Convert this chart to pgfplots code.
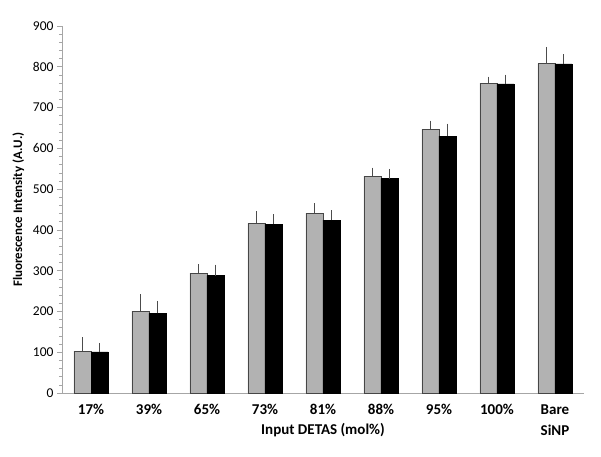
\documentclass[border=0pt]{standalone}
\usepackage{fontspec}
\setmainfont{Carlito}
\usepackage{pgfplots}
\pgfplotsset{compat=1.18}

\pgfplotsset{
  errbar/.style={error bars/.cd, y dir=plus, y explicit,
    error bar style={gray!60!black, line width=0.6pt},
    error mark options={gray!60!black, mark size=2pt, line width=0.6pt}},
}

\begin{document}
\begin{tikzpicture}
% fixed page: axis box sits at (0,0)-(522pt,367pt)
\path[use as bounding box] (-62pt,-63pt) rectangle (539pt,393pt);
\begin{axis}[
    at={(0,0)}, anchor=south west,
    width=522pt, height=367pt, scale only axis,
    xmin=-0.5, xmax=8.5, ymin=0, ymax=900,
    ytick={0,100,...,900}, minor y tick num=4,
    xtick={0,...,8},
    xticklabels={17\%,39\%,65\%,73\%,81\%,88\%,95\%,100\%,Bare},
    x tick label style={font=\fontsize{15}{17}\selectfont\bfseries, yshift=-3pt},
    y tick label style={font=\fontsize{13.5}{15}\selectfont},
    /pgf/number format/assume math mode=true,
    major x tick style={draw=none},
    extra x ticks={0.5,1.5,...,7.5},
    extra x tick labels={},
    extra x tick style={major tick length=4pt, tick style={draw=gray!70, line width=0.6pt}},
    tick align=outside,
    major tick length=5pt, minor tick length=3pt,
    y tick style={gray!70, line width=0.6pt},
    axis x line*=bottom, axis y line*=left,
    axis line style={gray!70, line width=0.8pt, -},
    ylabel={\bfseries Fluorescence Intensity (A.U.)},
    ylabel style={font=\fontsize{13}{15}\selectfont, yshift=2pt},
    xlabel={\bfseries Input DETAS (mol\%)},
    xlabel style={font=\fontsize{15}{17}\selectfont, yshift=8pt},
    ybar, bar width=17pt,
    clip=false,
    ]
\addplot[draw=gray!55!black, fill=gray!60, line width=0.4pt, bar shift=-8.5pt, errbar]
  coordinates {
  (0,103) +- (0,29) (1,201) +- (0,36) (2,294) +- (0,17) (3,416) +- (0,25)
  (4,441) +- (0,20) (5,532) +- (0,16) (6,647) +- (0,16) (7,760) +- (0,11)
  (8,808) +- (0,36) };
\addplot[draw=black, fill=black, line width=0.4pt, bar shift=8.5pt, errbar]
  coordinates {
  (0,101) +- (0,17) (1,195) +- (0,26) (2,288) +- (0,22) (3,414) +- (0,19)
  (4,424) +- (0,19) (5,526) +- (0,19) (6,630) +- (0,26) (7,758) +- (0,18)
  (8,807) +- (0,19) };
\node[font=\fontsize{15}{17}\selectfont\bfseries, anchor=north]
  at (axis cs:8,0) [yshift=-28pt] {SiNP};
\end{axis}
\end{tikzpicture}
\end{document}
